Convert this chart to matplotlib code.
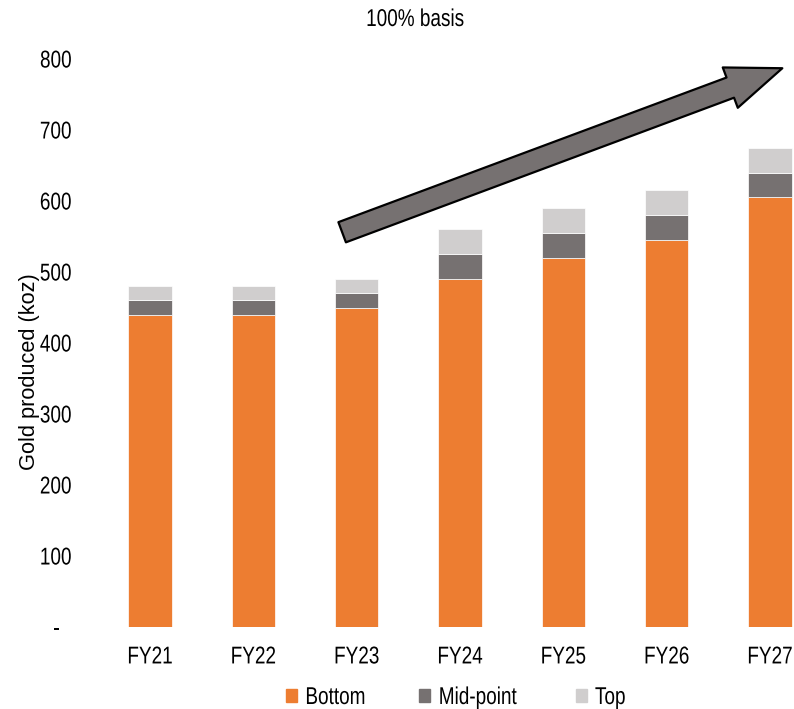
import matplotlib
matplotlib.use("Agg")
import matplotlib.pyplot as plt
from matplotlib.patches import FancyArrowPatch, Patch
from matplotlib.patheffects import AbstractPathEffect
from matplotlib.transforms import Affine2D
import numpy as np

years = ["FY21", "FY22", "FY23", "FY24", "FY25", "FY26", "FY27"]
bottom = [440, 440, 450, 490, 520, 545, 605]
mid_point = [20, 20, 20, 35, 35, 35, 35]
top = [20, 20, 20, 35, 35, 35, 35]
yticks = [0, 100, 200, 300, 400, 500, 600, 700, 800]

c_bottom = "#ED7D31"
c_mid = "#767171"
c_top = "#D0CECE"


class Squeeze(AbstractPathEffect):
    """Narrow the glyphs horizontally (Arial Narrow look)."""

    def __init__(self, sx=0.78, anchor="center"):
        super().__init__()
        self.sx = sx
        self.anchor = anchor

    def draw_path(self, renderer, gc, tpath, affine, rgbFace=None):
        ext = tpath.get_extents(affine)
        if self.anchor == "left":
            x0 = ext.x0
        elif self.anchor == "right":
            x0 = ext.x1
        else:
            x0 = (ext.x0 + ext.x1) / 2
        aff = affine + Affine2D().translate(-x0, 0).scale(self.sx, 1).translate(x0, 0)
        renderer.draw_path(gc, tpath, aff, rgbFace)


plt.rcParams["font.family"] = ["Liberation Sans", "DejaVu Sans"]
FS = 17.5

fig = plt.figure(figsize=(7.94, 7.09), dpi=100)
ax = fig.add_axes([98.3 / 794, 82 / 709, 723.3 / 794, 568 / 709])

x = np.arange(len(years))
w = 0.42
b1 = np.array(bottom)
b2 = b1 + np.array(mid_point)
ax.bar(x, bottom, w, color=c_bottom, edgecolor="white", linewidth=0.5)
ax.bar(x, mid_point, w, bottom=b1, color=c_mid, edgecolor="white", linewidth=0.5)
ax.bar(x, top, w, bottom=b2, color=c_top, edgecolor="white", linewidth=0.5)

ax.set_xlim(-0.5, len(years) - 0.5)
ax.set_ylim(0, 800)
ax.set_xticks(x)
ax.set_xticklabels(years, fontsize=FS)
ax.set_yticks(yticks)
ax.set_yticklabels(["-\u2002"] + [str(v) for v in yticks[1:]], fontsize=FS)
ax.tick_params(axis="both", length=0)
ax.tick_params(axis="y", pad=19)
ax.tick_params(axis="x", pad=14)
for s in ax.spines.values():
    s.set_visible(False)
for t in ax.get_xticklabels():
    t.set_path_effects([Squeeze()])
for t in ax.get_yticklabels():
    t.set_path_effects([Squeeze(anchor="right")])

ax.set_ylabel("Gold produced (koz)", fontsize=15.7)
ax.yaxis.set_label_coords(-0.081, 0.449)

# growth arrow
arrow = FancyArrowPatch((1.86, 556), (6.12, 787),
                        arrowstyle="simple,head_length=40,head_width=31,tail_width=15.5",
                        mutation_scale=1, shrinkA=0, shrinkB=0,
                        facecolor=c_mid, edgecolor="black", linewidth=1.6,
                        clip_on=False, zorder=5)
ax.add_patch(arrow)

title = fig.text(415 / 794, 1 - 26 / 709, "100% basis", ha="center",
                 va="baseline", fontsize=FS)
title.set_path_effects([Squeeze()])

handles = [Patch(color=c_bottom), Patch(color=c_mid), Patch(color=c_top)]
leg = fig.legend(handles, ["Bottom", "Mid-point", "Top"], loc="center left",
                 bbox_to_anchor=(286 / 794, 1 - 698 / 709), ncol=3, frameon=False,
                 fontsize=FS, handlelength=0.45, handleheight=0.45,
                 handletextpad=0.33, columnspacing=1.55,
                 borderpad=0, borderaxespad=0)
for t in leg.get_texts():
    t.set_path_effects([Squeeze(anchor="left")])

fig.savefig("out.png", dpi=100)
